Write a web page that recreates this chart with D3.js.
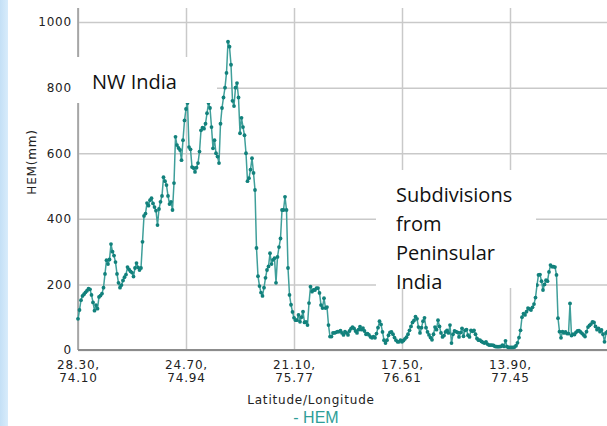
<!DOCTYPE html>
<html lang="en">
<head>
  <meta charset="UTF-8">
  <title>HEM along latitude/longitude</title>
  <style>
    body { margin: 0; background: #fff; }
    svg { display: block; }
    .tick text, .ax-title { font-family: 'DejaVu Sans', sans-serif; font-size: 12px; fill: #222; letter-spacing: 0.8px; }
    .note { font-family: 'Open Sans', sans-serif; font-size: 20px; fill: #111; }
  </style>
</head>
<body>
  <div id="chart"></div>

  <script src="https://d3js.org/d3.v7.min.js"></script>

  <script>
    // tick labels (lat, lon) every 72 samples along the transect
    const tickLabels = [
      ['28.30,', '74.10'],
      ['24.70,', '74.94'],
      ['21.10,', '75.77'],
      ['17.50,', '76.61'],
      ['13.90,', '77.45']
    ];
    const samplesPerTick = 72;
    const yTicks = [0, 200, 400, 600, 800, 1000];

    // HEM (mm)
    const hem = [
      95, 122, 152, 165, 170, 176, 181, 187, 185, 168,
      145, 120, 137, 126, 162, 166, 172, 190, 232, 274,
      262, 276, 323, 300, 288, 268, 232, 205, 190, 198,
      212, 222, 230, 253, 246, 240, 236, 224, 250, 265,
      252, 244, 250, 330, 409, 416, 448, 440, 457, 463,
      447, 436, 425, 381, 430, 452, 470, 527, 515, 503,
      470, 445, 452, 427, 509, 650, 625, 616, 610, 579,
      640, 700, 735, 753, 619, 612, 558, 555, 543, 556,
      570, 605, 670, 678, 675, 690, 722, 753, 738, 680,
      615, 640, 600, 590, 570, 690, 738, 770, 800, 845,
      940, 925, 870, 760, 744, 800, 814, 770, 661, 708,
      680, 655, 600, 515, 524, 550, 585, 540, 488, 311,
      225, 195, 175, 165, 190, 220, 244, 255, 295, 262,
      275, 280, 205, 284, 314, 340, 427, 427, 467, 427,
      250, 168, 138, 116, 98, 91, 91, 107, 86, 100,
      117, 84, 86, 76, 143, 193, 178, 183, 183, 189,
      189, 174, 137, 128, 158, 128, 131, 76, 41, 41,
      52, 52, 54, 56, 56, 59, 52, 46, 56, 52,
      46, 58, 65, 70, 66, 58, 52, 62, 71, 62,
      67, 58, 48, 50, 46, 40, 37, 41, 37, 50,
      68, 88, 78, 55, 30, 21, 30, 45, 54, 55,
      48, 38, 30, 25, 25, 30, 25, 29, 34, 39,
      48, 60, 72, 84, 90, 102, 95, 70, 52, 68,
      88, 98, 68, 55, 46, 38, 31, 48, 70, 62,
      91, 72, 52, 40, 44, 55, 60, 52, 76, 21,
      48, 58, 56, 54, 40, 53, 66, 42, 60, 62,
      45, 40, 60, 57, 60, 48, 35, 30, 30, 26,
      23, 21, 25, 18, 15, 15, 15, 14, 11, 10,
      10, 10, 11, 15, 11, 28, 10, 8, 8, 8,
      8, 9, 13, 22, 38, 60, 100, 111, 107, 117,
      128, 125, 122, 130, 140, 160, 198, 229, 230, 210,
      183, 200, 213, 210, 238, 259, 254, 254, 253, 229,
      97, 56, 37, 56, 52, 55, 50, 50, 142, 44,
      48, 47, 54, 58, 59, 55, 51, 46, 41, 56,
      70, 75, 79, 86, 84, 72, 62, 66, 56, 61,
      48, 25, 52, 56
    ];

    const width = 607;
    const height = 426;
    const mLeft = 78, mTop = 8, mBottom = 350, mRight = 640;

    const svg = d3.select('#chart')
      .append('svg')
      .attr('width', width)
      .attr('height', height);

    // light blue strip at the far left
    const grad = svg.append('defs').append('linearGradient')
      .attr('id', 'strip').attr('x1', 0).attr('x2', 1);
    grad.append('stop').attr('offset', 0).attr('stop-color', '#c4e0f6');
    grad.append('stop').attr('offset', 1).attr('stop-color', '#d8ecfb');
    svg.append('rect').attr('x', 0).attr('y', 0).attr('width', 8).attr('height', height)
      .attr('fill', 'url(#strip)');

    const x = d3.scaleLinear()
      .domain([0, hem.length - 1])
      .range([mLeft, mLeft + (hem.length - 1) * 1.5]);

    const y = d3.scaleLinear()
      .domain([0, 1043])
      .range([mBottom, mTop]);

    // horizontal grid + y labels
    const yAxis = svg.append('g')
      .attr('transform', `translate(${mLeft},0)`)
      .call(d3.axisLeft(y).tickValues(yTicks).tickFormat(d3.format('d'))
        .tickSize(-(mRight - mLeft)).tickSizeOuter(0).tickPadding(6));
    yAxis.select('.domain').remove();
    yAxis.selectAll('.tick line').attr('stroke', '#c9c9c9').attr('stroke-width', 1.5);

    // vertical grid + two-line x labels
    const xTickIdx = tickLabels.map((d, i) => i * samplesPerTick);
    const xAxis = svg.append('g')
      .attr('transform', `translate(0,${mBottom})`)
      .call(d3.axisBottom(x).tickValues(xTickIdx).tickSize(-(mBottom - mTop)).tickSizeOuter(0).tickFormat(''));
    xAxis.select('.domain').remove();
    xAxis.selectAll('.tick line').attr('stroke', '#c9c9c9').attr('stroke-width', 1.5);
    xAxis.selectAll('.tick').append('text')
      .attr('text-anchor', 'middle')
      .selectAll('tspan')
      .data((d, i) => tickLabels[i])
      .join('tspan')
      .attr('x', 0)
      .attr('y', (d, j) => 19 + j * 13)
      .text(d => d);

    // axis lines
    svg.append('line').attr('x1', mLeft).attr('x2', mLeft).attr('y1', mTop).attr('y2', mBottom)
      .attr('stroke', '#9a9a9a').attr('stroke-width', 1.5);
    svg.append('line').attr('x1', mLeft).attr('x2', mRight).attr('y1', mBottom).attr('y2', mBottom)
      .attr('stroke', '#8c8c8c').attr('stroke-width', 2);

    // series
    const line = d3.line().x((d, i) => x(i)).y(d => y(d));
    svg.append('path')
      .datum(hem)
      .attr('d', line)
      .attr('fill', 'none')
      .attr('stroke', '#3f9f9a')
      .attr('stroke-width', 1.5)
      .attr('stroke-linejoin', 'round');

    svg.append('g')
      .selectAll('circle')
      .data(hem)
      .join('circle')
      .attr('cx', (d, i) => x(i))
      .attr('cy', d => y(d))
      .attr('r', 1.9)
      .attr('fill', '#12817c');

    // axis titles + legend
    svg.append('text').attr('class', 'ax-title')
      .attr('transform', 'translate(36,162) rotate(-90)')
      .attr('text-anchor', 'middle')
      .text('HEM(mm)');
    svg.append('text').attr('class', 'ax-title')
      .attr('x', 311).attr('y', 404)
      .attr('text-anchor', 'middle')
      .text('Latitude/Longitude');
    svg.append('text')
      .attr('x', 316).attr('y', 423)
      .attr('text-anchor', 'middle')
      .style('font-family', "'Liberation Sans', Arial, sans-serif")
      .style('font-size', '16px')
      .attr('fill', '#2e9e98')
      .text('- HEM');

    // annotation boxes pasted over the chart
    svg.append('rect').attr('x', 77).attr('y', 57).attr('width', 140).attr('height', 46).attr('fill', '#fff');
    svg.append('text').attr('class', 'note').attr('x', 92).attr('y', 89).text('NW India');

    svg.append('rect').attr('x', 376).attr('y', 170).attr('width', 160).attr('height', 118).attr('fill', '#fff');
    ['Subdivisions', 'from', 'Peninsular', 'India'].forEach((t, i) => {
      svg.append('text').attr('class', 'note')
        .attr('x', 396).attr('y', 202 + i * 29).text(t);
    });
  </script>
</body>
</html>
